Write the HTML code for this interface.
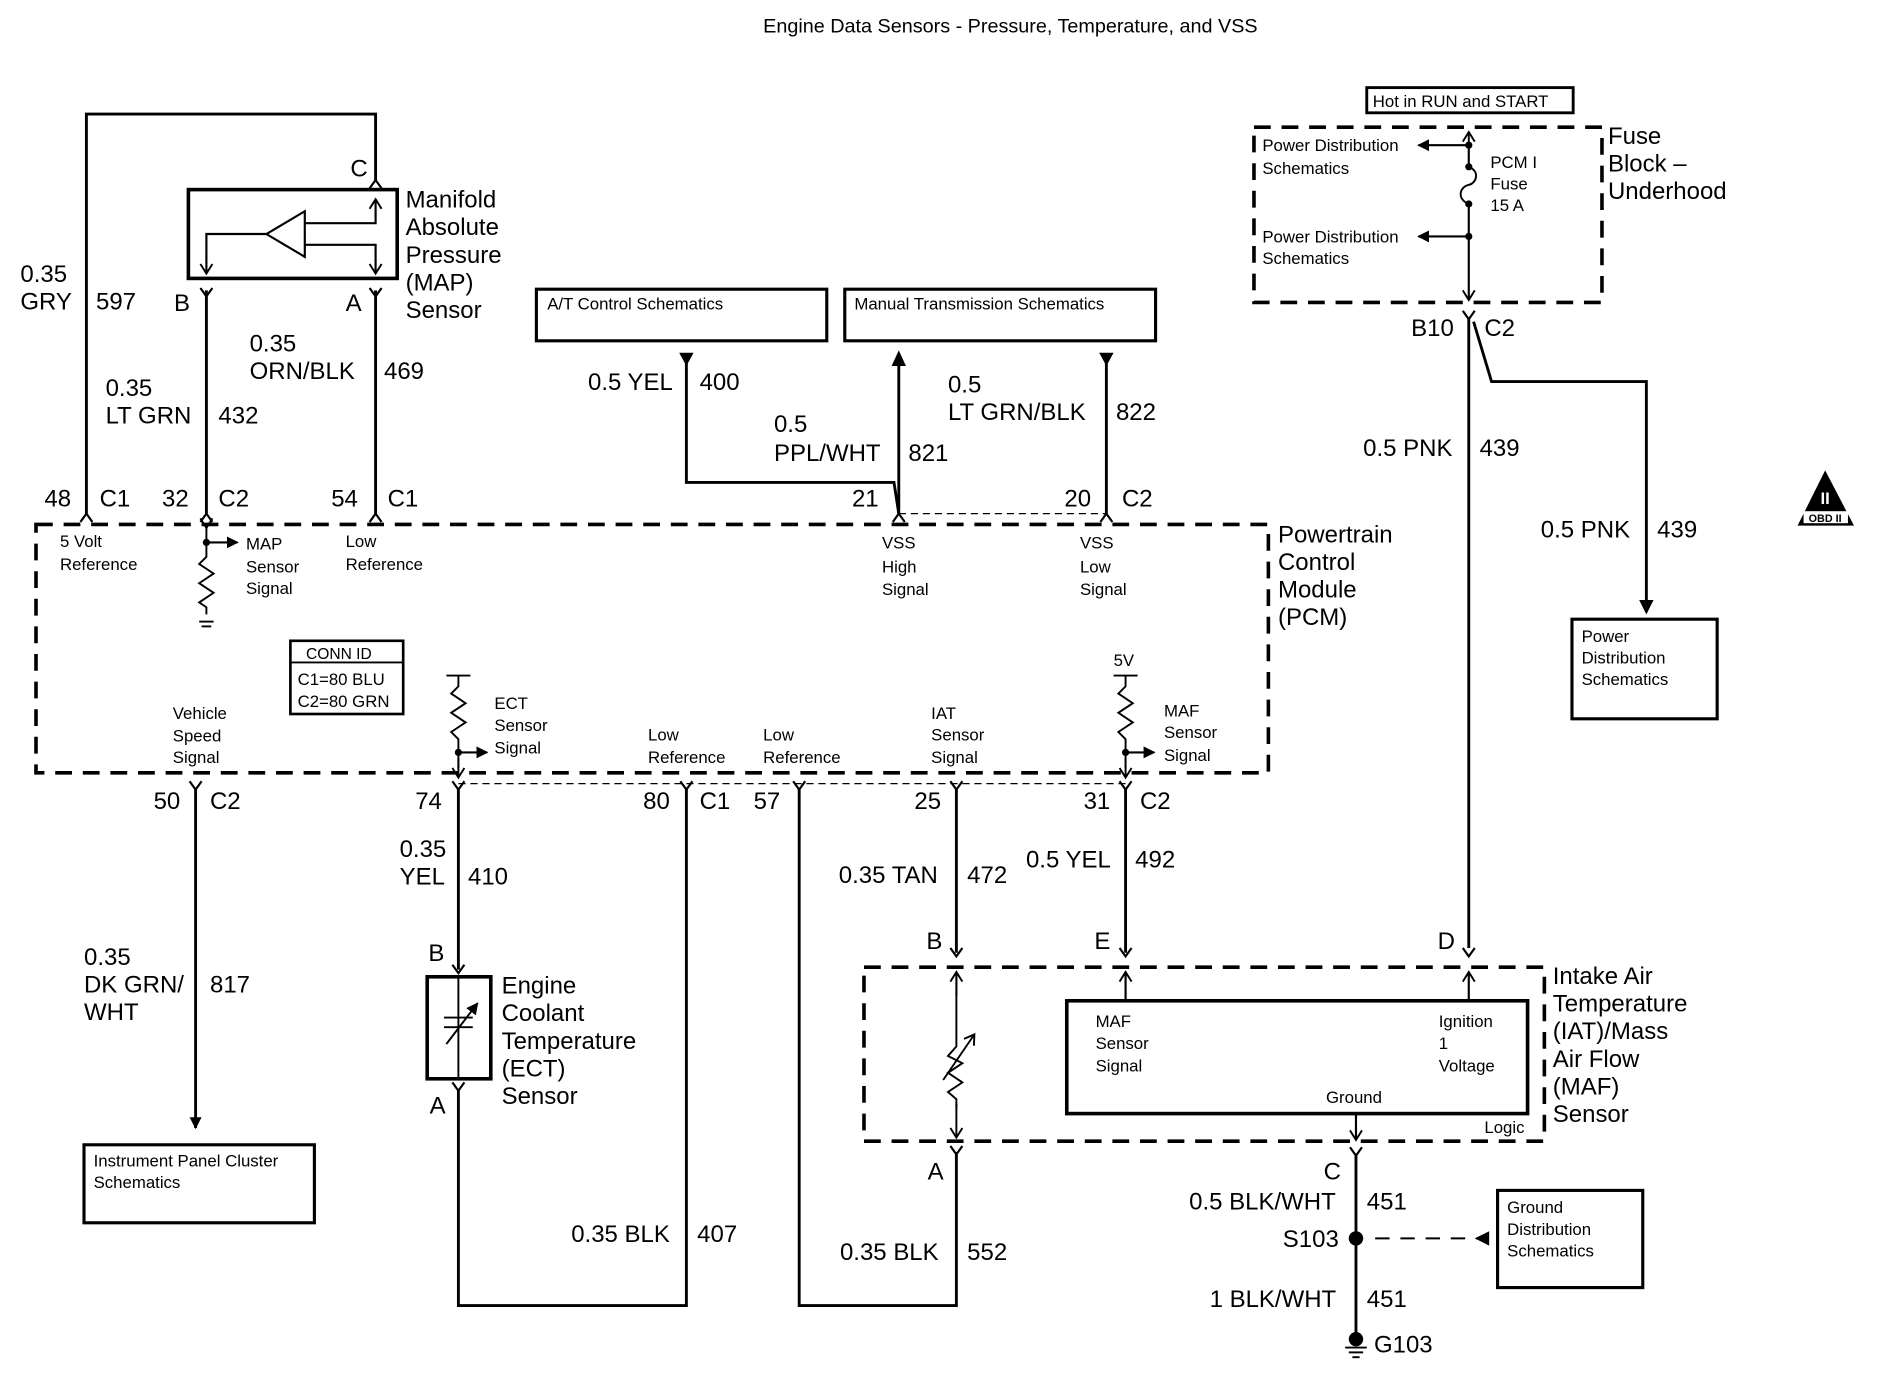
<!DOCTYPE html>
<html><head><meta charset="utf-8"><style>
html,body{margin:0;padding:0;background:#fff;}
svg{display:block}
text{font-family:"Liberation Sans",Arial,sans-serif;fill:#000;}
.b{font-size:20px}
.s{font-size:14px}
.t{font-size:16.5px}
</style></head><body>
<svg width="1880" height="1392" viewBox="0 0 1566.7 1160" xmlns="http://www.w3.org/2000/svg">
<defs>
<marker id="ah" markerWidth="10" markerHeight="10" refX="9" refY="5" orient="auto" markerUnits="userSpaceOnUse"><path d="M0,0 L10,5 L0,10 z" fill="#000"/></marker>
<marker id="oa" markerWidth="12" markerHeight="12" refX="10" refY="6" orient="auto" markerUnits="userSpaceOnUse"><path d="M2,1 L10,6 L2,11" fill="none" stroke="#000" stroke-width="1.6"/></marker>
</defs>
<text x="842" y="27" class="t" text-anchor="middle">Engine Data Sensors - Pressure, Temperature, and VSS</text>

<g fill="none" stroke="#000" stroke-width="2.4">
<polyline points="72,428 72,95 313,95 313,150"/>
<rect x="157" y="158" width="174" height="74" stroke-width="3"/>
<line x1="172" y1="242" x2="172" y2="428"/>
<line x1="313" y1="242" x2="313" y2="428"/>
<polyline points="308,157 313,150 318,157" stroke-width="1.8"/>
<polyline points="167,240 172,247 177,240" stroke-width="1.8"/>
<polyline points="308,240 313,247 318,240" stroke-width="1.8"/>
<polyline points="67,435 72,428 77,435" stroke-width="1.8"/>
<polyline points="167,435 172,428 177,435" stroke-width="1.8"/>
<polyline points="308,435 313,428 318,435" stroke-width="1.8"/>
<polygon points="222,195 254,176 254,214" stroke-width="1.8"/>
<polyline points="254,186 313,186 313,166" stroke-width="1.8" marker-end="url(#oa)"/>
<polyline points="254,204 313,204 313,228" stroke-width="1.8" marker-end="url(#oa)"/>
<polyline points="222,195 172,195 172,228" stroke-width="1.8" marker-end="url(#oa)"/>
<rect x="30" y="437" width="1027" height="207" stroke-width="3" stroke-dasharray="14,9"/>
<line x1="172" y1="440" x2="172" y2="460" stroke-width="1.6" marker-start="url(#oa)"/>
<line x1="172" y1="452" x2="198" y2="452" stroke-width="1.8" marker-end="url(#ah)"/>
<polyline points="172,460 172,464 166,470 178,478 166,486 178,494 166,502 172,506 172,512" stroke-width="1.6"/>
<line x1="166" y1="518" x2="178" y2="518" stroke-width="1.6"/>
<line x1="168" y1="522" x2="176" y2="522" stroke-width="1.6"/>
<rect x="447" y="241" width="242" height="43" stroke-width="2.6"/>
<rect x="704" y="241" width="259" height="43" stroke-width="2.6"/>
<polyline points="572,300 572,402 745,402 749,428"/>
<line x1="749" y1="428" x2="749" y2="300"/>
<line x1="922" y1="300" x2="922" y2="428"/>
<line x1="749" y1="428" x2="922" y2="428" stroke-width="1" stroke-dasharray="6,4"/>
<polyline points="744,435 749,428 754,435" stroke-width="1.8"/>
<polyline points="917,435 922,428 927,435" stroke-width="1.8"/>
<rect x="1139" y="73" width="172" height="21" stroke-width="2.4"/>
<rect x="1045" y="106" width="290" height="146" stroke-width="3" stroke-dasharray="14,9"/>
<line x1="1224" y1="122" x2="1224" y2="110" marker-end="url(#oa)" stroke-width="1.6"/>
<line x1="1224" y1="121" x2="1224" y2="139" stroke-width="1.8"/>
<path d="M1224,139 C1234,143 1230,153 1224,154 C1216,156 1214,166 1224,170" stroke-width="1.6"/>
<line x1="1224" y1="170" x2="1224" y2="250" stroke-width="1.8" marker-end="url(#oa)"/>
<line x1="1224" y1="121" x2="1182" y2="121" stroke-width="1.8" marker-end="url(#ah)"/>
<line x1="1224" y1="197" x2="1182" y2="197" stroke-width="1.8" marker-end="url(#ah)"/>
<polyline points="1219,259 1224,266 1229,259" stroke-width="1.8"/>
<line x1="1224" y1="266" x2="1224" y2="790"/>
<polyline points="1228,268 1243,318 1372,318 1372,510"/>
<rect x="1310" y="516" width="121" height="83" stroke-width="2.6"/>
<polygon points="1521,392 1498,438 1545,438" fill="#000" stroke="none"/>
<rect x="242" y="534" width="94" height="61" stroke-width="2.2"/>
<line x1="242" y1="552" x2="336" y2="552" stroke-width="1.6"/>
<line x1="372" y1="563" x2="392" y2="563" stroke-width="1.6"/>
<polyline points="382,563 382,572 376,578 388,586 376,594 388,602 376,610 382,616 382,640" stroke-width="1.6"/>
<line x1="382" y1="627" x2="406" y2="627" stroke-width="1.8" marker-end="url(#ah)"/>
<line x1="382" y1="632" x2="382" y2="648" stroke-width="1.6" marker-end="url(#oa)"/>
<line x1="928" y1="563" x2="948" y2="563" stroke-width="1.6"/>
<polyline points="938,563 938,572 932,578 944,586 932,594 944,602 932,610 938,616 938,640" stroke-width="1.6"/>
<line x1="938" y1="627" x2="962" y2="627" stroke-width="1.8" marker-end="url(#ah)"/>
<line x1="938" y1="632" x2="938" y2="648" stroke-width="1.6" marker-end="url(#oa)"/>
<line x1="382" y1="653" x2="938" y2="653" stroke-width="1" stroke-dasharray="6,4"/>
<polyline points="158,651 163,658 168,651" stroke-width="1.8"/>
<polyline points="377,651 382,658 387,651" stroke-width="1.8"/>
<polyline points="567,651 572,658 577,651" stroke-width="1.8"/>
<polyline points="661,651 666,658 671,651" stroke-width="1.8"/>
<polyline points="792,651 797,658 802,651" stroke-width="1.8"/>
<polyline points="933,651 938,658 943,651" stroke-width="1.8"/>
<line x1="163" y1="658" x2="163" y2="940" marker-end="url(#ah)"/>
<rect x="70" y="954" width="192" height="65" stroke-width="2.6"/>
<line x1="382" y1="658" x2="382" y2="808"/>
<polyline points="377,804 382,811 387,804" stroke-width="1.8"/>
<rect x="356" y="814" width="53" height="85" stroke-width="3"/>
<line x1="382" y1="814" x2="382" y2="899" stroke-width="1.6"/>
<line x1="370" y1="848" x2="394" y2="848" stroke-width="1.6"/>
<line x1="370" y1="856" x2="394" y2="856" stroke-width="1.6"/>
<line x1="372" y1="870" x2="398" y2="836" stroke-width="1.6" marker-end="url(#ah)"/>
<polyline points="377,902 382,909 387,902" stroke-width="1.8"/>
<polyline points="382,909 382,1088 572,1088 572,658"/>
<polyline points="666,658 666,1088 797,1088 797,960"/>
<polyline points="792,955 797,962 802,955" stroke-width="1.8"/>
<line x1="797" y1="658" x2="797" y2="794"/>
<line x1="938" y1="658" x2="938" y2="794"/>
<polyline points="792,790 797,797 802,790" stroke-width="1.8"/>
<polyline points="933,790 938,797 943,790" stroke-width="1.8"/>
<polyline points="1219,790 1224,797 1229,790" stroke-width="1.8"/>
<rect x="720" y="806" width="567" height="145" stroke-width="3" stroke-dasharray="14,9"/>
<line x1="797" y1="830" x2="797" y2="810" stroke-width="1.6" marker-end="url(#oa)"/>
<line x1="797" y1="920" x2="797" y2="948" stroke-width="1.6" marker-end="url(#oa)"/>
<polyline points="797,810 797,872 790,880 802,886 790,894 802,902 790,910 797,916 797,924" stroke-width="1.6"/>
<line x1="786" y1="900" x2="812" y2="862" stroke-width="1.6" marker-end="url(#oa)"/>
<rect x="889" y="834" width="384" height="94" stroke-width="3"/>
<line x1="938" y1="834" x2="938" y2="810" stroke-width="1.8" marker-end="url(#oa)"/>
<line x1="1224" y1="834" x2="1224" y2="810" stroke-width="1.8" marker-end="url(#oa)"/>
<line x1="1130" y1="928" x2="1130" y2="950" stroke-width="1.8" marker-end="url(#oa)"/>
<polyline points="1125,956 1130,963 1135,956" stroke-width="1.8"/>
<line x1="1130" y1="963" x2="1130" y2="1115"/>
<line x1="1146" y1="1032" x2="1238" y2="1032" stroke-width="1.6" stroke-dasharray="12,9"/>
<rect x="1248" y="992" width="121" height="81" stroke-width="2.6"/>
<line x1="1121" y1="1123" x2="1139" y2="1123" stroke-width="1.6"/>
<line x1="1124" y1="1127" x2="1136" y2="1127" stroke-width="1.6"/>
<line x1="1127" y1="1131" x2="1133" y2="1131" stroke-width="1.6"/>
</g>
<g fill="#000">
<polygon points="566,294 578,294 572,305"/>
<polygon points="743,305 755,305 749,292"/>
<polygon points="916,294 928,294 922,305"/>
<polygon points="1366,500 1378,500 1372,512"/>
<polygon points="1229,1026 1229,1038 1241,1032" transform="rotate(180 1235 1032)"/>
<circle cx="172" cy="452" r="3"/>
<circle cx="382" cy="627" r="3"/>
<circle cx="938" cy="627" r="3"/>
<circle cx="1224" cy="121" r="3"/>
<circle cx="1224" cy="139" r="3"/>
<circle cx="1224" cy="170" r="3"/>
<circle cx="1224" cy="197" r="3"/>
<circle cx="1130" cy="1032" r="6"/>
<circle cx="1130" cy="1116" r="6"/>
</g>
<text x="1521" y="420" font-size="14" text-anchor="middle" style="fill:#fff" font-weight="bold">II</text>
<rect x="1503" y="426" width="37" height="10" fill="#fff"/>
<text x="1521" y="435" font-size="9" text-anchor="middle" font-weight="bold">OBD II</text>

<g class="b">
<text x="17" y="235">0.35</text><text x="17" y="258">GRY</text><text x="80" y="258">597</text>
<text x="292" y="147">C</text>
<text x="145" y="259">B</text><text x="288" y="259">A</text>
<text x="208" y="293">0.35</text><text x="208" y="316">ORN/BLK</text><text x="320" y="316">469</text>
<text x="88" y="330">0.35</text><text x="88" y="353">LT GRN</text><text x="182" y="353">432</text>
<text x="338" y="173">Manifold</text><text x="338" y="196">Absolute</text><text x="338" y="219">Pressure</text><text x="338" y="242">(MAP)</text><text x="338" y="265">Sensor</text>
<text x="37" y="422">48</text><text x="83" y="422">C1</text>
<text x="135" y="422">32</text><text x="182" y="422">C2</text>
<text x="276" y="422">54</text><text x="323" y="422">C1</text>
<text x="490" y="325">0.5 YEL</text><text x="583" y="325">400</text>
<text x="645" y="360">0.5</text><text x="645" y="384">PPL/WHT</text><text x="757" y="384">821</text>
<text x="790" y="327">0.5</text><text x="790" y="350">LT GRN/BLK</text><text x="930" y="350">822</text>
<text x="710" y="422">21</text>
<text x="887" y="422">20</text><text x="935" y="422">C2</text>
<text x="1065" y="452">Powertrain</text><text x="1065" y="475">Control</text><text x="1065" y="498">Module</text><text x="1065" y="521">(PCM)</text>
<text x="1340" y="120">Fuse</text><text x="1340" y="143">Block –</text><text x="1340" y="166">Underhood</text>
<text x="1176" y="280">B10</text><text x="1237" y="280">C2</text>
<text x="1136" y="380">0.5 PNK</text><text x="1233" y="380">439</text>
<text x="1284" y="448">0.5 PNK</text><text x="1381" y="448">439</text>
<text x="128" y="674">50</text><text x="175" y="674">C2</text>
<text x="346" y="674">74</text>
<text x="536" y="674">80</text><text x="583" y="674">C1</text>
<text x="628" y="674">57</text>
<text x="762" y="674">25</text>
<text x="903" y="674">31</text><text x="950" y="674">C2</text>
<text x="70" y="804">0.35</text><text x="70" y="827">DK GRN/</text><text x="70" y="850">WHT</text><text x="175" y="827">817</text>
<text x="333" y="714">0.35</text><text x="333" y="737">YEL</text><text x="390" y="737">410</text>
<text x="357" y="801">B</text><text x="358" y="928">A</text>
<text x="418" y="828">Engine</text><text x="418" y="851">Coolant</text><text x="418" y="874">Temperature</text><text x="418" y="897">(ECT)</text><text x="418" y="920">Sensor</text>
<text x="476" y="1035">0.35 BLK</text><text x="581" y="1035">407</text>
<text x="700" y="1050">0.35 BLK</text><text x="806" y="1050">552</text>
<text x="699" y="736">0.35 TAN</text><text x="806" y="736">472</text>
<text x="855" y="723">0.5 YEL</text><text x="946" y="723">492</text>
<text x="772" y="791">B</text><text x="912" y="791">E</text><text x="1198" y="791">D</text>
<text x="773" y="983">A</text><text x="1103" y="983">C</text>
<text x="1294" y="820">Intake Air</text><text x="1294" y="843">Temperature</text><text x="1294" y="866">(IAT)/Mass</text><text x="1294" y="889">Air Flow</text><text x="1294" y="912">(MAF)</text><text x="1294" y="935">Sensor</text>
<text x="991" y="1008">0.5 BLK/WHT</text><text x="1139" y="1008">451</text>
<text x="1069" y="1039">S103</text>
<text x="1008" y="1089">1 BLK/WHT</text><text x="1139" y="1089">451</text>
<text x="1145" y="1127">G103</text>
</g>
<g class="s">
<text x="1144" y="89">Hot in RUN and START</text>
<text x="1052" y="126">Power Distribution</text><text x="1052" y="145">Schematics</text>
<text x="1052" y="202">Power Distribution</text><text x="1052" y="220">Schematics</text>
<text x="1242" y="140">PCM I</text><text x="1242" y="158">Fuse</text><text x="1242" y="176">15 A</text>
<text x="1318" y="535">Power</text><text x="1318" y="553">Distribution</text><text x="1318" y="571">Schematics</text>
<text x="456" y="258">A/T Control Schematics</text>
<text x="712" y="258">Manual Transmission Schematics</text>
<text x="50" y="456">5 Volt</text><text x="50" y="475">Reference</text>
<text x="205" y="458">MAP</text><text x="205" y="477">Sensor</text><text x="205" y="495">Signal</text>
<text x="288" y="456">Low</text><text x="288" y="475">Reference</text>
<text x="735" y="457">VSS</text><text x="735" y="477">High</text><text x="735" y="496">Signal</text>
<text x="900" y="457">VSS</text><text x="900" y="477">Low</text><text x="900" y="496">Signal</text>
<text x="255" y="549" font-size="13">CONN ID</text>
<text x="248" y="571">C1=80 BLU</text><text x="248" y="589">C2=80 GRN</text>
<text x="144" y="599">Vehicle</text><text x="144" y="618">Speed</text><text x="144" y="636">Signal</text>
<text x="412" y="591">ECT</text><text x="412" y="609">Sensor</text><text x="412" y="628">Signal</text>
<text x="540" y="617">Low</text><text x="540" y="636">Reference</text>
<text x="636" y="617">Low</text><text x="636" y="636">Reference</text>
<text x="776" y="599">IAT</text><text x="776" y="617">Sensor</text><text x="776" y="636">Signal</text>
<text x="928" y="555">5V</text>
<text x="970" y="597">MAF</text><text x="970" y="615">Sensor</text><text x="970" y="634">Signal</text>
<text x="78" y="972">Instrument Panel Cluster</text><text x="78" y="990">Schematics</text>
<text x="913" y="856">MAF</text><text x="913" y="874">Sensor</text><text x="913" y="893">Signal</text>
<text x="1199" y="856">Ignition</text><text x="1199" y="874">1</text><text x="1199" y="893">Voltage</text>
<text x="1105" y="919">Ground</text>
<text x="1237" y="944">Logic</text>
<text x="1256" y="1011">Ground</text><text x="1256" y="1029">Distribution</text><text x="1256" y="1047">Schematics</text>
</g>
</svg>
</body></html>
